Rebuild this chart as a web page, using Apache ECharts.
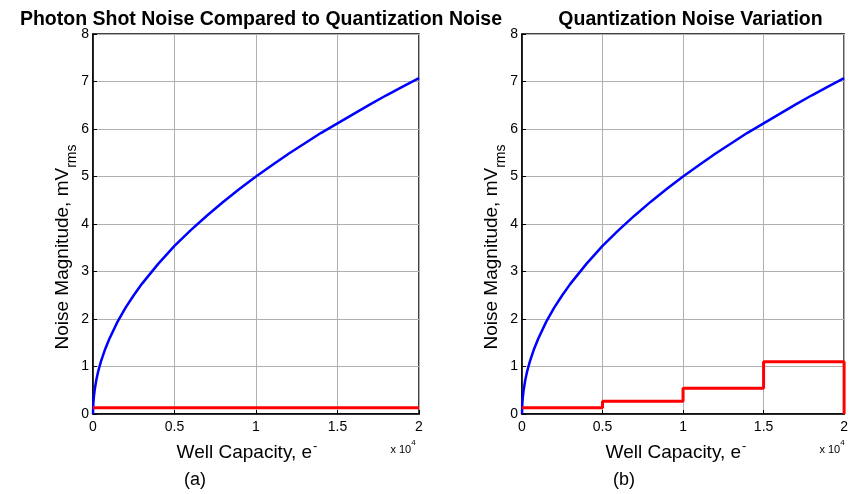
<!DOCTYPE html>
<html>
<head>
<meta charset="utf-8">
<script src="https://cdn.jsdelivr.net/npm/echarts@6/dist/echarts.min.js"></script>
<style>
  html, body { margin: 0; padding: 0; background: #fff; }
  #chart { width: 851px; height: 494px; }
</style>
</head>
<body>
<div id="chart"></div>
<script>
// Well capacity in units of 10^4 electrons
const wellCapacity = [0, 0.002, 0.005, 0.01, 0.02, 0.03, 0.04, 0.05, 0.075, 0.1, 0.15, 0.2, 0.25, 0.3, 0.4, 0.5,
  0.6, 0.7, 0.8, 0.9, 1.0, 1.1, 1.2, 1.3, 1.4, 1.5, 1.6, 1.7, 1.8, 1.9, 2.0];
// Photon shot noise, mV rms
const shotNoise = [0, 0.22, 0.35, 0.5, 0.71, 0.87, 1.0, 1.12, 1.37, 1.58, 1.94, 2.24, 2.5, 2.74, 3.16, 3.54,
  3.87, 4.18, 4.47, 4.74, 5.0, 5.24, 5.48, 5.70, 5.92, 6.12, 6.32, 6.52, 6.71, 6.89, 7.07];

// (a) fixed quantization noise
const quantFixedX = [0, 2];
const quantFixed = [0.13, 0.13];

// (b) quantization noise stepping with range (step: 'end')
const quantStepX = [0, 0.5, 1, 1.5, 2, 2];
const quantStep = [0.13, 0.27, 0.54, 1.1, 1.1, 0];

const xTicks = { min: 0, max: 2, interval: 0.5 };
const yTicks = { min: 0, max: 8, interval: 1 };

const titles = ['Photon Shot Noise Compared to Quantization Noise', 'Quantization Noise Variation'];
const panelTags = ['(a)', '(b)'];

const FONT = '"Liberation Sans", Arial, sans-serif';
const panels = [
  { left: 93, width: 326 },
  { left: 522, width: 327 }
];
const TOP = 34, HEIGHT = 380;

function pairs(xs, ys) { return xs.map((x, i) => [x, ys[i]]); }

const grids = panels.map(p => ({
  left: p.left, top: TOP, width: p.width, height: HEIGHT,
  show: true, borderColor: '#000', borderWidth: 1.5, backgroundColor: 'transparent'
}));

const xAxes = panels.map((p, i) => ({
  type: 'value', gridIndex: i, min: xTicks.min, max: xTicks.max, interval: xTicks.interval,
  axisLine: { show: true, onZero: false, lineStyle: { color: '#000', width: 1.5 } },
  axisTick: { show: true, inside: true, length: 4, lineStyle: { color: '#000' } },
  axisLabel: { color: '#000', fontFamily: FONT, fontSize: 14, margin: 6 },
  splitLine: { show: true, lineStyle: { color: '#b0b0b0', width: 1 } }
}));

const yAxes = panels.map((p, i) => ({
  type: 'value', gridIndex: i, min: yTicks.min, max: yTicks.max, interval: yTicks.interval,
  axisLine: { show: true, onZero: false, lineStyle: { color: '#000', width: 1.5 } },
  axisTick: { show: true, inside: true, length: 4, lineStyle: { color: '#000' } },
  axisLabel: { color: '#000', fontFamily: FONT, fontSize: 14, margin: 4 },
  splitLine: { show: true, lineStyle: { color: '#b0b0b0', width: 1 } }
}));

const series = [
  { type: 'line', xAxisIndex: 0, yAxisIndex: 0, data: pairs(wellCapacity, shotNoise), showSymbol: false,
    clip: false, lineStyle: { color: '#0000ff', width: 2.5 }, z: 3 },
  { type: 'line', xAxisIndex: 0, yAxisIndex: 0, data: pairs(quantFixedX, quantFixed), showSymbol: false,
    clip: false, lineStyle: { color: '#ff0000', width: 3 }, z: 4 },
  { type: 'line', xAxisIndex: 1, yAxisIndex: 1, data: pairs(wellCapacity, shotNoise), showSymbol: false,
    clip: false, lineStyle: { color: '#0000ff', width: 2.5 }, z: 3 },
  { type: 'line', xAxisIndex: 1, yAxisIndex: 1, data: pairs(quantStepX, quantStep), showSymbol: false,
    step: 'end', clip: false, lineStyle: { color: '#ff0000', width: 3 }, z: 4 }
];

const shift = panels[1].left - panels[0].left;
const graphics = [];
panels.forEach((p, i) => {
  const dx = i * shift;
  // x-axis name with superscript minus
  graphics.push({
    type: 'text', x: 247 + dx, y: 451,
    style: {
      text: '{m|Well Capacity, e}{s|-}',
      align: 'center', verticalAlign: 'middle',
      rich: {
        m: { fontFamily: FONT, fontSize: 19, fill: '#000', lineHeight: 22, verticalAlign: 'bottom' },
        s: { fontFamily: FONT, fontSize: 13, fill: '#000', lineHeight: 22, verticalAlign: 'top', padding: [0, 0, 0, 1] }
      }
    }
  });
  // y-axis name with subscript rms
  graphics.push({
    type: 'text', x: 66 + dx, y: 247, rotation: Math.PI / 2,
    style: {
      text: '{m|Noise Magnitude, mV}{s|rms}',
      align: 'center', verticalAlign: 'middle',
      rich: {
        m: { fontFamily: FONT, fontSize: 19, fill: '#000', lineHeight: 26, verticalAlign: 'top' },
        s: { fontFamily: FONT, fontSize: 14, fill: '#000', lineHeight: 26, verticalAlign: 'bottom' }
      }
    }
  });
  // scale factor
  graphics.push({
    type: 'text', x: 403 + dx, y: 447,
    style: {
      text: '{m|x 10}{s|4}',
      align: 'center', verticalAlign: 'middle',
      rich: {
        m: { fontFamily: FONT, fontSize: 11, fill: '#000', lineHeight: 16, verticalAlign: 'bottom' },
        s: { fontFamily: FONT, fontSize: 8, fill: '#000', lineHeight: 16, verticalAlign: 'top' }
      }
    }
  });
  // panel tag
  graphics.push({
    type: 'text', x: 195 + dx, y: 480,
    style: { text: panelTags[i], fontFamily: FONT, fontSize: 18, fill: '#000', align: 'center', verticalAlign: 'middle' }
  });
});

const chart = echarts.init(document.getElementById('chart'), null, { renderer: 'canvas' });
chart.setOption({
  animation: false,
  backgroundColor: '#fff',
  title: titles.map((t, i) => ({
    text: t, left: panels[i].left + panels[i].width / 2, top: 5, textAlign: 'center',
    textStyle: { fontFamily: FONT, fontSize: 19.5, fontWeight: 'bold', color: '#000' }
  })),
  grid: grids,
  xAxis: xAxes,
  yAxis: yAxes,
  series: series,
  graphic: graphics
});
</script>
</body>
</html>
